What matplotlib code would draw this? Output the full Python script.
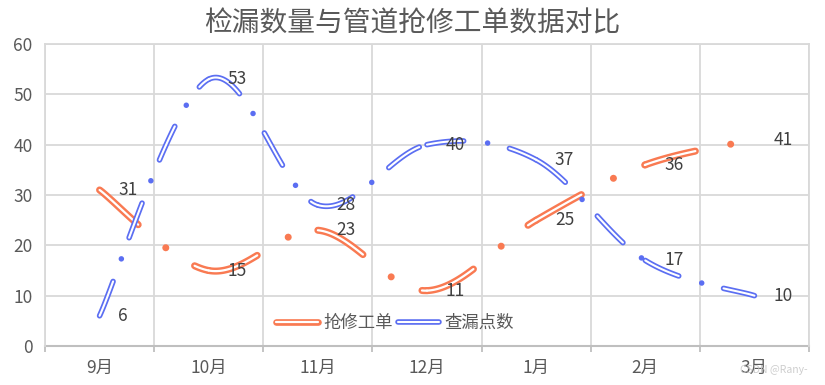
import numpy as np
import matplotlib
matplotlib.use('Agg')
from matplotlib import pyplot as plt
from matplotlib.lines import Line2D
from matplotlib.ticker import FixedLocator

plt.rcParams['font.family'] = ['Noto Sans CJK SC', 'DejaVu Sans']
plt.rcParams['lines.scale_dashes'] = False

months = ['9月', '10月', '11月', '12月', '1月', '2月', '3月']
repair_orders = [31, 15, 23, 11, 25, 36, 41]   # 抢修工单
leak_points = [6, 53, 28, 40, 37, 17, 10]      # 查漏点数

title = '检漏数量与管道抢修工单数据对比'
text_color = '#595959'
grid_color = '#D9D9D9'


# excel-like smooth line: bezier per segment, control points from neighbours
def smooth_segments(ys, n=60):
    xs = np.arange(len(ys), dtype=float)
    ys = np.asarray(ys, dtype=float)
    pts = np.column_stack([xs, ys])
    segs = []
    t = np.linspace(0, 1, n)[:, None]
    for i in range(len(pts) - 1):
        p0 = pts[max(i - 1, 0)]
        p1 = pts[i]
        p2 = pts[i + 1]
        p3 = pts[min(i + 2, len(pts) - 1)]
        c1 = p1 + (p2 - p0) / 6
        c2 = p2 - (p3 - p1) / 6
        curve = ((1 - t) ** 3) * p1 + 3 * ((1 - t) ** 2) * t * c1 \
            + 3 * (1 - t) * t ** 2 * c2 + t ** 3 * p2
        segs.append(curve)
    return segs


def draw_series(ax, ys, color, lw, inner_lw, pattern, z):
    on, off1, off2 = pattern
    for seg in smooth_segments(ys):
        # dash pattern restarts at every data point
        ax.plot(seg[:, 0], seg[:, 1], color=color, lw=lw,
                dashes=(on, off1, 0.01, off2),
                dash_capstyle='round', solid_capstyle='round', zorder=z)
        ax.plot(seg[:, 0], seg[:, 1], color='white', lw=inner_lw,
                dashes=(on, off1 + 0.01 + off2),
                dash_capstyle='round', zorder=z + 0.1)


fig = plt.figure(figsize=(8.25, 3.85), dpi=100)
ax = fig.add_axes([45 / 825, 1 - 346 / 385, (809 - 45) / 825, (346 - 44) / 385])

orange = '#F97A52'
blue = '#5B6EF2'

draw_series(ax, repair_orders, orange, 5.1, 1.6, (37.4, 25.9, 24.5), 3)
draw_series(ax, leak_points, blue, 4.0, 1.5, (26.6, 17.3, 16.2), 4)

x = np.arange(len(months))
for xi, yi in zip(x, repair_orders):
    ax.annotate(str(yi), (xi, yi), xytext=(13.5, 0), textcoords='offset points',
                ha='left', va='center', fontsize=12.5, color='#404040', zorder=6)
for xi, yi in zip(x, leak_points):
    ax.annotate(str(yi), (xi, yi), xytext=(13.5, 0), textcoords='offset points',
                ha='left', va='center', fontsize=12.5, color='#404040', zorder=6)

ax.set_xlim(-0.5, len(months) - 0.5)
ax.set_ylim(0, 60)
ax.set_yticks(np.arange(0, 61, 10))
ax.set_xticks(x)
ax.set_xticklabels(months)
ax.xaxis.set_minor_locator(FixedLocator(np.arange(-0.5, len(months), 1.0)))

ax.grid(axis='y', color=grid_color, lw=1.3, zorder=0)
ax.grid(axis='x', which='minor', color=grid_color, lw=1.3, zorder=0)
ax.set_axisbelow(True)

for side in ['top', 'left', 'right']:
    ax.spines[side].set_color(grid_color)
    ax.spines[side].set_linewidth(1.3)
ax.spines['bottom'].set_color('#BFBFBF')
ax.spines['bottom'].set_linewidth(1.5)
ax.spines['bottom'].set_zorder(1)

ax.tick_params(axis='x', which='major', length=0, pad=9, labelsize=12.5, labelcolor=text_color)
ax.tick_params(axis='x', which='minor', length=4, width=1.3, color='#BFBFBF', direction='out')
ax.tick_params(axis='y', length=0, pad=9, labelsize=12.5, labelcolor=text_color)

fig.text(412 / 825, 1 - 24 / 385, title, ha='center', va='center',
         fontsize=20, color=text_color)

# legend: compound line samples
h1 = (Line2D([], [], color=orange, lw=4.8, solid_capstyle='round'),
      Line2D([], [], color='white', lw=1.6, solid_capstyle='round'))
h2 = (Line2D([], [], color=blue, lw=4.0, solid_capstyle='round'),
      Line2D([], [], color='white', lw=1.5, solid_capstyle='round'))
leg = ax.legend([h1, h2], ['抢修工单', '查漏点数'], loc='center',
                bbox_to_anchor=(395 / 825, 1 - 323 / 385), bbox_transform=fig.transFigure,
                ncol=2, frameon=False, fontsize=12.5, handlelength=2.4,
                handletextpad=0.3, columnspacing=0.3, borderpad=0)
for t in leg.get_texts():
    t.set_color(text_color)

fig.text(808 / 825, 1 - 370 / 385, 'CSDN @Rany-', ha='right', va='center',
         fontsize=7.5, color='#C8C8C8', alpha=0.9)

fig.savefig('out.png', dpi=100)
